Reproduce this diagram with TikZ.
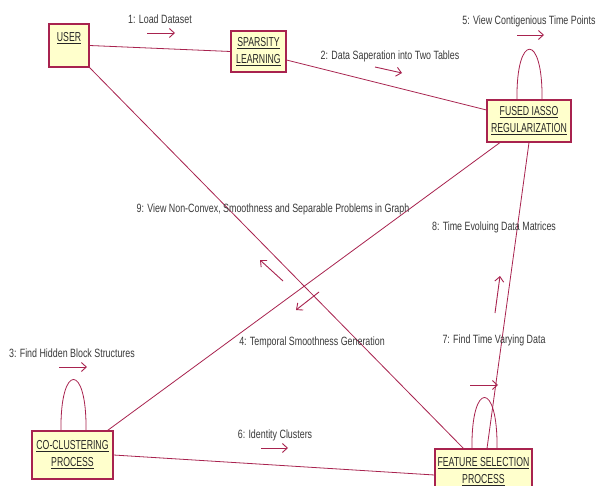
\documentclass[tikz,border=0pt]{standalone}
\usepackage{fontspec}
\setmainfont{Liberation Sans}
\newfontfamily\msgfont[FakeStretch=0.74]{Liberation Sans}
\newfontfamily\objfont[FakeStretch=0.67]{Liberation Sans}
\usetikzlibrary{arrows.meta}
\definecolor{wire}{HTML}{A8234F}
\definecolor{boxfill}{HTML}{FFFFCC}
\definecolor{ink}{HTML}{262626}
\definecolor{msgink}{HTML}{3A3A3A}
\begin{document}
\begin{tikzpicture}[x=1pt,y=-1pt,
  objbox/.style={draw=wire, line width=1.1pt, fill=boxfill, inner sep=0pt,
    text=ink, align=center, font=\objfont\fontsize{13}{17}\selectfont},
  objtext/.style={inner sep=0pt, text=ink, font=\objfont\fontsize{13}{17}\selectfont},
  msg/.style={inner sep=0pt, text=msgink, font=\msgfont\fontsize{12}{14}\selectfont},
  link/.style={draw=wire, line width=0.8pt},
  flow/.style={draw=wire, line width=0.9pt, -{Straight Barb[length=5pt,width=9pt]}}]

\fill[white] (0,0) rectangle (596,486);
\useasboundingbox (0,0) rectangle (596,486);
\clip (0,0) rectangle (596,486);

% objects
\node[objbox, minimum width=40pt, minimum height=43pt] (user) at (69,45.5) {};
\node[objtext] (usertext) at (69,38) {\underline{USER}};
\node[objbox, minimum width=55pt, minimum height=41pt] (sparsity) at (258.5,51.5)
  {\underline{SPARSITY}\\\underline{LEARNING}};
\node[objbox, minimum width=84pt, minimum height=42pt] (fused) at (529,121)
  {\underline{FUSED IASSO}\\\underline{REGULARIZATION}};
\node[objbox, minimum width=81pt, minimum height=48pt] (coclust) at (72.5,455)
  {\underline{CO-CLUSTERING}\\\underline{PROCESS}};
\node[objbox, minimum width=97pt, minimum height=46pt] (feature) at (483.5,472)
  {\underline{FEATURE SELECTION}\\\underline{PROCESS}};

% links between objects
\draw[link] (user.east) -- (sparsity.west);
\draw[link] ([yshift=-8.5pt]sparsity.east) -- ([yshift=11pt]fused.west);
\draw[link] (user.south east) -- ([xshift=-20pt]feature.north);
\draw[link] ([xshift=-29pt]fused.south) -- ([xshift=-6pt]coclust.north east);
\draw[link] (fused.south) -- ([xshift=3.5pt]feature.north);
\draw[link] (coclust.east) -- ([yshift=-3pt]feature.west);

% self links
\draw[link] ([xshift=-12pt]fused.north) .. controls +(-1,-67) and +(1,-67) .. ([xshift=13pt]fused.north);
\draw[link] ([xshift=-11.5pt]coclust.north) .. controls +(-1,-68) and +(1,-68) .. ([xshift=13.5pt]coclust.north);
\draw[link] ([xshift=-11.5pt]feature.north) .. controls +(-1,-68) and +(1,-68) .. ([xshift=13.5pt]feature.north);

% messages
\node[msg] (l1) at (160,19) {1: Load Dataset};
\node[msg] (l2) at (390,56) {2: Data Saperation into Two Tables};
\node[msg] (l3) at (72,353) {3: Find Hidden Block Structures};
\node[msg] (l4) at (312,342) {4: Temporal Smoothness Generation};
\node[msg] (l5) at (529,21) {5: View Contigenious Time Points};
\node[msg] (l6) at (275,435) {6: Identity Clusters};
\node[msg] (l7) at (494,340) {7: Find Time Varying Data};
\node[msg] (l8) at (494,227) {8: Time Evoluing Data Matrices};
\node[msg] (l9) at (273,209) {9: View Non-Convex, Smoothness and Separable Problems in Graph};

\coordinate (a1s) at (147,33);  \coordinate (a1e) at (175,33);
\coordinate (a2s) at (375,67);  \coordinate (a2e) at (402,73);
\coordinate (a3s) at (59,367);  \coordinate (a3e) at (87,367);
\coordinate (a4s) at (319,292); \coordinate (a4e) at (296,310);
\coordinate (a5s) at (517,35);  \coordinate (a5e) at (544,35);
\coordinate (a6s) at (261,448); \coordinate (a6e) at (288,448);
\coordinate (a7s) at (470,385); \coordinate (a7e) at (498,385);
\coordinate (a8s) at (495,313); \coordinate (a8e) at (500,276);
\coordinate (a9s) at (283,281); \coordinate (a9e) at (260,260);
\foreach \i in {1,...,9} {\draw[flow] (a\i s) -- (a\i e);}

\end{tikzpicture}
\end{document}
